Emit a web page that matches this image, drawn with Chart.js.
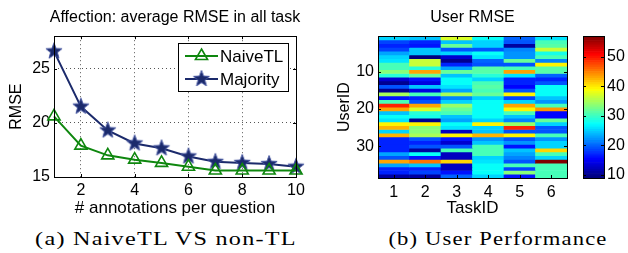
<!DOCTYPE html>
<html>
<head>
<meta charset="utf-8">
<script src="https://cdn.jsdelivr.net/npm/chart.js@4.4.0/dist/chart.umd.min.js"></script>
<style>
html, body { margin: 0; padding: 0; background: #fff; width: 628px; height: 253px; overflow: hidden; }
.pane { position: absolute; top: 0; }
.cap { position: absolute; top: 228px; width: 300px; line-height: 22px; text-align: center; font-family: "Liberation Serif", serif; font-size: 19.5px; letter-spacing: 1px; white-space: nowrap; color: #000; transform-origin: 50% 50%; }
</style>
</head>
<body>
<canvas id="lineChart" class="pane" style="left:0" width="350" height="225"></canvas>
<canvas id="heatChart" class="pane" style="left:314px" width="317" height="225"></canvas>
<canvas id="cbarChart" class="pane" style="left:579px" width="49" height="225"></canvas>
<div class="cap" style="left:16px; transform: scaleX(1.24)">(a) NaiveTL VS non-TL</div>
<div class="cap" style="left:348px; transform: scaleX(1.16)">(b) User Performance</div>
<script>
// (a) average RMSE vs number of annotations
const annotations = [1, 2, 3, 4, 5, 6, 7, 8, 9, 10];
const naiveTL  = [20.6, 17.9, 17.0, 16.6, 16.3, 15.95, 15.6, 15.6, 15.6, 15.6];
const majority = [26.6, 21.5, 19.3, 18.1, 17.65, 16.9, 16.4, 16.3, 16.2, 15.95];
const lineXTicks = [2, 4, 6, 8, 10];
const lineYTicks = [15, 20, 25];

// (b) user RMSE, one array per task, UserID 1..38 top to bottom
const taskIds = ['1', '2', '3', '4', '5', '6'];
const task1 = [25,18,17,18,23,25,26,30,30,33,29,13,10,19,10,35,16,30,49,43,24,27,26,39,42,25,42,17,17,17,17,23,19,43,23,17,17,11];
const task2 = [24,17,16,24,24,9,36,36,29,43,32,16,14,24,14,30,17,19,43,37,29,28,10,39,33,33,35,19,17,19,11,27,16,45,24,17,18,11];
const task3 = [37,24,32,19,25,13,10,17,23,32,24,27,27,26,23,35,21,25,34,32,30,24,23,27,26,12,39,16,13,19,30,12,12,41,12,12,16,20];
const task4 = [27,25,25,19,27,26,20,19,31,31,29,25,30,31,30,32,25,27,27,27,27,27,25,39,25,24,42,22,24,30,30,30,25,26,27,27,27,25];
const task5 = [20,19,11,21,22,22,32,19,30,43,26,17,17,15,19,39,18,25,43,39,30,24,21,34,49,19,39,19,22,16,24,23,21,19,30,18,33,16];
const task6 = [26,30,31,36,28,30,21,39,31,31,20,17,19,27,27,27,24,22,30,44,15,15,32,25,19,19,30,22,25,25,41,30,25,57,30,30,30,30];
const userTicks = [10, 20, 30];
const cbarTicks = [10, 20, 30, 40, 50];

const taskColumns = [task1, task2, task3, task4, task5, task6];
const userIds = task1.map((v, i) => i + 1);
const allValues = [].concat(...taskColumns);
const cMin = Math.min(...allValues);
const cMax = Math.max(...allValues);

Chart.defaults.font.family = "'Liberation Sans', Arial, sans-serif";
Chart.defaults.font.size = 16;
Chart.defaults.color = '#000';

// matlab jet(64)
function jetIndex(i) {
  const t = i / 63;
  const f = c => Math.round(255 * Math.min(1, Math.max(0, 1.5 - Math.abs(4 * t - c))));
  return 'rgb(' + f(3) + ',' + f(2) + ',' + f(1) + ')';
}
function jet(v) {
  const i = Math.min(63, Math.max(0, Math.floor((v - cMin) / (cMax - cMin) * 64)));
  return jetIndex(i);
}

function makeStar(r, fill, edge) {
  const c = document.createElement('canvas');
  const s = Math.ceil(2 * r + 3);
  c.width = c.height = s;
  const g = c.getContext('2d');
  g.beginPath();
  for (let k = 0; k < 10; k++) {
    const rad = k % 2 ? r * 0.42 : r;
    const a = -Math.PI / 2 + k * Math.PI / 5;
    g.lineTo(s / 2 + rad * Math.cos(a), s / 2 + rad * Math.sin(a));
  }
  g.closePath();
  g.fillStyle = fill; g.fill();
  g.strokeStyle = edge; g.lineWidth = 1; g.stroke();
  return c;
}

// axes box + inward ticks on all sides, like matlab
const frame = {
  id: 'frame',
  afterDatasetsDraw(chart, args, opts) {
    const ctx = chart.ctx, a = chart.chartArea, len = opts.len || 3;
    ctx.save();
    ctx.strokeStyle = '#000';
    ctx.lineWidth = 1;
    ctx.beginPath();
    ['x', 'y'].forEach(id => {
      const s = chart.scales[id];
      if (!s || !s.options.display) return;
      s.ticks.forEach((t, i) => {
        const p = Math.round(s.getPixelForTick(i)) + 0.5;
        if (id === 'x') {
          ctx.moveTo(p, a.bottom); ctx.lineTo(p, a.bottom - len);
          ctx.moveTo(p, a.top); ctx.lineTo(p, a.top + len);
        } else {
          ctx.moveTo(a.left, p); ctx.lineTo(a.left + len, p);
          ctx.moveTo(a.right, p); ctx.lineTo(a.right - len, p);
        }
      });
    });
    ctx.stroke();
    ctx.strokeRect(Math.round(a.left) + 0.5, Math.round(a.top) + 0.5, Math.round(a.right - a.left), Math.round(a.bottom - a.top));
    ctx.restore();
  }
};

// boxed legend with line + marker samples
const boxLegend = {
  id: 'boxLegend',
  afterDraw(chart, args, o) {
    if (!o.x) return;
    const ctx = chart.ctx;
    ctx.save();
    ctx.fillStyle = '#fff';
    ctx.fillRect(o.x, o.y, o.w, o.h);
    ctx.strokeStyle = '#000'; ctx.lineWidth = 1;
    ctx.strokeRect(o.x + 0.5, o.y + 0.5, o.w, o.h);
    chart.data.datasets.forEach((ds, i) => {
      const cy = o.y + o.first + i * o.gap;
      ctx.strokeStyle = ds.borderColor; ctx.lineWidth = ds.borderWidth;
      ctx.beginPath(); ctx.moveTo(o.x + o.l0, cy); ctx.lineTo(o.x + o.l1, cy); ctx.stroke();
      ctx.fillStyle = ds.pointBackgroundColor; ctx.strokeStyle = ds.pointBorderColor; ctx.lineWidth = ds.pointBorderWidth;
      Chart.helpers.drawPoint(ctx, {pointStyle: ds.pointStyle, radius: ds.pointRadius, borderWidth: ds.pointBorderWidth, rotation: 0},
        o.x + (o.l0 + o.l1) / 2, cy);
      ctx.fillStyle = '#000';
      ctx.font = o.font;
      ctx.textBaseline = 'middle';
      ctx.fillText(ds.label, o.x + o.tx, cy + 1);
    });
    ctx.restore();
  }
};

const green = '#0e870e';
const navy = '#1b2a6b';
const star = makeStar(8.5, navy, '#4656a0');

new Chart(document.getElementById('lineChart'), {
  type: 'line',
  data: {
    datasets: [
      {label: 'NaiveTL', data: annotations.map((a, i) => ({x: a, y: naiveTL[i]})),
       borderColor: green, borderWidth: 2, pointStyle: 'triangle', pointRadius: 7, pointBorderWidth: 1.6,
       pointBackgroundColor: 'rgba(255,255,255,0)', pointBorderColor: green, tension: 0, clip: false},
      {label: 'Majority', data: annotations.map((a, i) => ({x: a, y: majority[i]})),
       borderColor: navy, borderWidth: 2, pointStyle: star, pointRadius: 8, pointBorderWidth: 1,
       pointBackgroundColor: navy, pointBorderColor: navy, tension: 0, clip: false}
    ]
  },
  options: {
    responsive: false, animation: false,
    layout: {padding: 0},
    plugins: {
      legend: {display: false}, tooltip: {enabled: false},
      title: {display: true, text: 'Affection: average RMSE in all task', font: {size: 16, weight: 'normal'}, padding: {top: 8, bottom: 9}},
      frame: {len: 3},
      boxLegend: {x: 178, y: 43, w: 110, h: 48, first: 13, gap: 23, l0: 7, l1: 40, tx: 42, font: "17px 'Liberation Sans', Arial, sans-serif"}
    },
    scales: {
      x: {type: 'linear', min: 1, max: 10,
          afterBuildTicks: s => { s.ticks = lineXTicks.map(v => ({value: v})); },
          afterFit: s => { s.height = 48; s.paddingRight = 54; },
          grid: {color: '#555', drawTicks: false}, border: {display: false, dash: [1, 3]},
          ticks: {padding: 4},
          title: {display: true, text: '# annotations per question', font: {size: 17}, padding: {top: 0, bottom: 6}}},
      y: {min: 15, max: 28,
          afterBuildTicks: s => { s.ticks = lineYTicks.map(v => ({value: v})); },
          afterFit: s => { s.width = 54; },
          grid: {color: '#555', drawTicks: false}, border: {display: false, dash: [1, 3]},
          ticks: {padding: 4},
          title: {display: true, text: 'RMSE', padding: {top: 7, bottom: 0}}}
    }
  },
  plugins: [frame, boxLegend]
});

new Chart(document.getElementById('heatChart'), {
  type: 'bar',
  data: {
    labels: taskIds,
    datasets: userIds.map((u, r) => ({
      label: 'User ' + u,
      data: taskColumns.map(() => [u - 0.5, u + 0.5]),
      backgroundColor: taskColumns.map(col => jet(col[r])),
      borderWidth: 0, barPercentage: 1, categoryPercentage: 1, grouped: false
    }))
  },
  options: {
    responsive: false, animation: false,
    layout: {padding: 0},
    plugins: {
      legend: {display: false}, tooltip: {enabled: false},
      title: {display: true, text: 'User RMSE', font: {size: 16, weight: 'normal'}, padding: {top: 8, bottom: 9}},
      frame: {len: 3}
    },
    scales: {
      x: {grid: {display: false, drawTicks: false}, border: {display: false},
          afterFit: s => { s.height = 47; s.paddingRight = 64; },
          ticks: {padding: 5},
          title: {display: true, text: 'TaskID', font: {size: 17}, padding: {top: 0, bottom: 6}}},
      y: {min: 0.5, max: 38.5, reverse: true,
          afterBuildTicks: s => { s.ticks = userTicks.map(v => ({value: v})); },
          afterFit: s => { s.width = 64; },
          grid: {display: false, drawTicks: false}, border: {display: false},
          ticks: {padding: 4},
          title: {display: true, text: 'UserID', padding: {top: 21, bottom: 0}}}
    }
  },
  plugins: [frame]
});

const levels = Array.from({length: 64}, (_, i) => i);
new Chart(document.getElementById('cbarChart'), {
  type: 'bar',
  data: {
    labels: [''],
    datasets: levels.map(i => ({
      data: [[cMin + i * (cMax - cMin) / 64, cMin + (i + 1) * (cMax - cMin) / 64]],
      backgroundColor: jetIndex(i),
      borderWidth: 0, barPercentage: 1, categoryPercentage: 1, grouped: false
    }))
  },
  options: {
    responsive: false, animation: false,
    layout: {padding: {left: 4, right: 0, top: 36, bottom: 47}},
    plugins: {legend: {display: false}, tooltip: {enabled: false}, frame: {len: 3}},
    scales: {
      x: {display: false},
      y: {position: 'right', min: cMin, max: cMax,
          afterBuildTicks: s => { s.ticks = cbarTicks.map(v => ({value: v})); },
          afterFit: s => { s.width = 24; },
          grid: {display: false, drawTicks: false}, border: {display: false},
          ticks: {padding: 3}}
    }
  },
  plugins: [frame]
});
</script>
</body>
</html>
